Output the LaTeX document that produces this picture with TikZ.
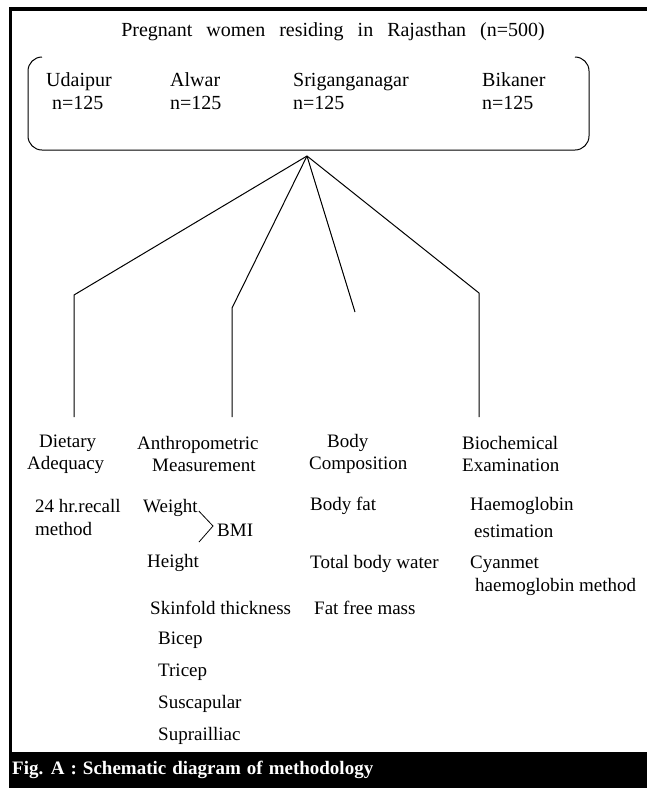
\documentclass[tikz,border=0pt]{standalone}
\usepackage{fontspec}
\setmainfont{Liberation Serif}
\begin{document}
\begin{tikzpicture}[x=1pt,y=-1pt,
  boxtxt/.style={inner sep=0pt, anchor=west, align=left, font=\fontsize{20}{23}\selectfont},
  txt/.style={inner sep=0pt, anchor=west, font=\fontsize{19}{22}\selectfont},
  cat/.style={inner sep=0pt, anchor=west, align=left, font=\fontsize{19}{22}\selectfont},
  conn/.style={line width=1pt, line join=miter},
  frameline/.style={line width=3.5pt}]
\useasboundingbox (0,0) rectangle (647,788);
% outer frame
\draw[frameline] (10.5,752) -- (10.5,9) -- (647,9);
% title
\node[inner sep=0pt, font=\fontsize{20}{24}\selectfont] (title) at (333,32)
  {{\spaceskip=14pt plus 2pt Pregnant women residing in Rajasthan (n=500)}};
% district bracket box
\draw[line width=1pt, rounded corners=14pt] (42,57) -- (28,57) -- (28,150) -- (589,150) -- (589,57) -- (575,57);
\node[boxtxt] (udaipur) at (46,91) {Udaipur\\\hspace*{6pt}n=125};
\node[boxtxt] (alwar) at (170,91) {Alwar\\n=125};
\node[boxtxt] (sri) at (293,91) {Sriganganagar\\n=125};
\node[boxtxt] (bikaner) at (482,91) {Bikaner\\n=125};
% connectors
\coordinate (apex) at (307,156);
\coordinate (dietK) at (74,295);
\coordinate (dietE) at (74,417);
\coordinate (anthK) at (232,308);
\coordinate (anthE) at (232,417);
\coordinate (bodyE) at (355,312);
\coordinate (bioK) at (479,293);
\coordinate (bioE) at (479,417);
\draw[conn] (apex) -- (dietK) -- (dietE);
\draw[conn] (apex) -- (anthK) -- (anthE);
\draw[conn] (apex) -- (bodyE);
\draw[conn] (apex) -- (bioK) -- (bioE);
% categories
\node[cat] (diet) at (27,454) {\hspace*{12pt}Dietary\\Adequacy};
\node[cat] (anth) at (137,454) {Anthropometric\\\hspace*{15pt}Measurement};
\node[cat] (body) at (309,454) {\hspace*{18pt}Body\\Composition};
\node[cat] (bio) at (462,454) {Biochemical\\Examination};
% dietary items
\node[txt] (recall) at (35,506) {24 hr.recall};
\node[txt] (method) at (35,529) {method};
% anthropometric items
\node[txt] (weight) at (143,508) {Weight};
\node[txt] (bmi) at (217,530) {BMI};
\draw[line width=0.8pt] (weight.east) ++(1,3) coordinate (wa) -- (213,526) coordinate (bk) -- (199,542) coordinate (hb);
\node[txt] (height) at (147,563) {Height};
\node[txt] (skin) at (150,608) {Skinfold thickness};
\node[txt] (bicep) at (158,640) {Bicep};
\node[txt] (tricep) at (158,672) {Tricep};
\node[txt] (susc) at (158,704) {Suscapular};
\node[txt] (supra) at (158,736) {Suprailliac};
% body composition items
\node[txt] (bfat) at (310,506) {Body fat};
\node[txt] (tbw) at (310,564) {Total body water};
\node[txt] (ffm) at (314,608) {Fat free mass};
% biochemical items
\node[txt] (hb1) at (470,506) {Haemoglobin};
\node[txt] (hb2) at (474,531) {estimation};
\node[txt] (cy1) at (470,564) {Cyanmet};
\node[txt] (cy2) at (475,587) {haemoglobin method};
% caption bar
\fill[black] (8.5,752) rectangle (647,788);
\node[inner sep=0pt, anchor=west, text=white, font=\bfseries\fontsize{19}{23}\selectfont] (caption) at (12,770)
  {{\spaceskip=6pt plus 1pt Fig. A : Schematic diagram of methodology}};
\end{tikzpicture}
\end{document}
